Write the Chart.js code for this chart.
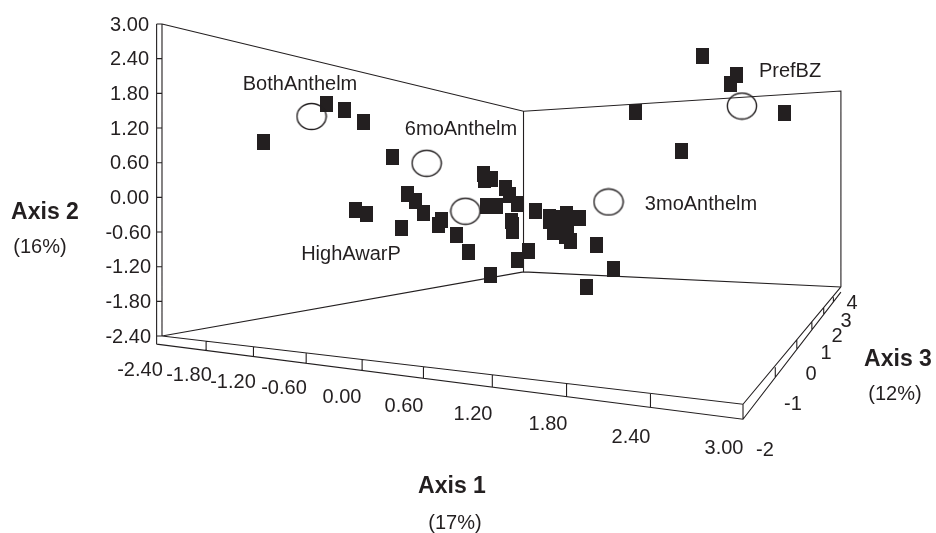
<!DOCTYPE html>
<html lang="en">
<head>
  <meta charset="UTF-8">
  <title>Ordination 3D scatter</title>
  <script src="https://cdn.jsdelivr.net/npm/chart.js"></script>
  <style>
    html, body { margin: 0; padding: 0; background: #fff; }
    #wrap { width: 936px; height: 533px; }
  </style>
</head>
<body>
  <div id="wrap"><canvas id="ordination" width="936" height="533"></canvas></div>

  <script>
    // Sample scores
    const scoresAxis1 = [-1.46, -0.87, -0.70, -0.53, -0.26, -0.12, -0.04, 0.03, 0.20, 0.17,
      -0.60, -0.50, -0.17, 0.34, 0.45, 0.65, 0.90, 1.01, 1.55, 1.80,
      1.64, 0.59, 0.66, 0.60, 0.79, 0.83, 0.90, 0.62, 0.71, 0.85,
      0.86, 0.86, 1.07, 1.20, 1.36, 1.48, 1.20, 1.24, 1.35, 1.40,
      1.37, 1.27, 1.32, 1.28, 2.62, 2.94, 2.88, 2.00, 3.39, 2.43];
    const scoresAxis2 = [0.96, 1.61, 1.51, 1.30, 0.69, 0.06, -0.06, -0.27, -0.39, -0.48,
      -0.22, -0.29, -0.53, -0.65, -0.95, -1.34, -1.09, -0.93, -1.55, -1.24,
      -0.83, 0.40, 0.32, 0.30, 0.16, 0.04, -0.12, -0.15, -0.15, -0.41,
      -0.48, -0.58, -0.24, -0.34, -0.29, -0.36, -0.41, -0.60, -0.67, -0.76,
      -0.51, -0.43, -0.36, -0.53, 2.44, 2.12, 1.96, 1.48, 1.46, 0.80];

    // Group centroids (open circles)
    const groupNames = ["BothAnthelm", "6moAnthelm", "HighAwarP", "3moAnthelm", "PrefBZ"];
    const groupAxis1 = [-1.01, 0.06, 0.42, 1.75, 2.99];
    const groupAxis2 = [1.40, 0.59, -0.24, -0.08, 1.58];

    // Tick labels
    const axis1Labels = ["-2.40", "-1.80", "-1.20", "-0.60", "0.00", "0.60", "1.20", "1.80", "2.40", "3.00"];
    const axis2Ticks = [-2.4, -1.8, -1.2, -0.6, 0, 0.6, 1.2, 1.8, 2.4, 3];
    const axis3Labels = ["-2", "-1", "0", "1", "2", "3", "4"];

    // Box outline, null = pen up
    const frameX = [-2.40, 0.96, 3.91, 3.91, null, 0.96, 0.96, null,
      -2.40, 0.96, 3.91, null, -2.40, 3.00, 3.91, null, -2.45, 3.00, 3.91, null,
      -2.40, -2.40, null, -2.45, -2.45, null, 3.00, 3.00, null,
      -1.99, -1.99, null, -1.55, -1.55, null, -1.06, -1.06, null, -0.54, -0.54, null,
      0.03, 0.03, null, 0.67, 0.67, null, 1.36, 1.36, null, 2.14, 2.14, null,
      3.30, 3.30, null, 3.50, 3.50, null, 3.64, 3.64, null, 3.75, 3.75, null, 3.84, 3.84];
    const frameY = [3.00, 1.49, 1.84, -1.55, null, 1.49, -1.29, null,
      -2.40, -1.29, -1.55, null, -2.40, -3.58, -1.55, null, -2.54, -3.84, -1.64, null,
      3.00, -2.40, null, 3.00, -2.54, null, -3.58, -3.84, null,
      -2.49, -2.65, null, -2.59, -2.75, null, -2.69, -2.87, null, -2.81, -2.99, null,
      -2.93, -3.13, null, -3.07, -3.28, null, -3.22, -3.45, null, -3.39, -3.63, null,
      -2.94, -3.11, null, -2.47, -2.62, null, -2.16, -2.30, null, -1.90, -2.02, null, -1.73, -1.81];

    const ink = "#231f20";

    function zip(xs, ys) {
      return xs.map((x, i) => ({ x: x, y: ys[i] }));
    }

    // axis 2 ticks sit between the two upright lines
    function axis2TickMarks() {
      const pts = [];
      axis2Ticks.forEach(v => {
        pts.push({ x: -2.45, y: v }, { x: -2.40, y: v }, { x: null, y: null });
      });
      return pts;
    }

    // pointStyle images: the marks are not square / not round in the figure
    function squareMark() {
      const c = document.createElement("canvas");
      c.width = 13; c.height = 16;
      const g = c.getContext("2d");
      g.fillStyle = ink;
      g.fillRect(0, 0, 13, 16);
      return c;
    }
    function ovalMark() {
      const c = document.createElement("canvas");
      c.width = 32; c.height = 29;
      const g = c.getContext("2d");
      g.strokeStyle = ink;
      g.lineWidth = 1.4;
      g.beginPath();
      g.ellipse(16, 14.5, 14.6, 13, 0, 0, Math.PI * 2);
      g.stroke();
      return c;
    }

    // screen placement of the free text
    const arial = '"Liberation Sans", Arial, sans-serif';
    const textItems = [];
    [[140, 370], [189, 375], [233, 382], [284, 388], [342, 397], [404, 406], [473, 414], [548, 424], [631, 437], [724, 448]]
      .forEach((p, i) => textItems.push({ t: axis1Labels[i], x: p[0], y: p[1] }));
    [[765, 450], [793, 404], [811, 374], [826, 353], [837, 336], [846, 321], [852, 303]]
      .forEach((p, i) => textItems.push({ t: axis3Labels[i], x: p[0], y: p[1] }));
    [[300, 84], [461, 129], [351, 254], [701, 204], [790, 71]]
      .forEach((p, i) => textItems.push({ t: groupNames[i], x: p[0], y: p[1] }));
    textItems.push({ t: "Axis 2", x: 45, y: 213, bold: true });
    textItems.push({ t: "(16%)", x: 40, y: 247 });
    textItems.push({ t: "Axis 1", x: 452, y: 487, bold: true });
    textItems.push({ t: "(17%)", x: 455, y: 523 });
    textItems.push({ t: "Axis 3", x: 898, y: 360, bold: true });
    textItems.push({ t: "(12%)", x: 895, y: 394 });

    const freeText = {
      id: "freeText",
      afterDraw(chart) {
        const ctx = chart.ctx;
        const yScale = chart.scales.y;
        ctx.save();
        ctx.fillStyle = ink;
        ctx.textAlign = "center";
        ctx.textBaseline = "middle";
        textItems.forEach(item => {
          ctx.font = (item.bold ? "bold 23px " : "20px ") + arial;
          ctx.fillText(item.t, item.x, item.y);
        });
        // axis 2 labels follow the y scale
        ctx.font = "20px " + arial;
        ctx.textAlign = "right";
        axis2Ticks.forEach(v => {
          ctx.fillText(v.toFixed(2), v < 0 ? 151 : 149, yScale.getPixelForValue(v) + 1);
        });
        ctx.restore();
      }
    };

    new Chart(document.getElementById("ordination"), {
      type: "scatter",
      data: {
        datasets: [
          {
            label: "Box",
            data: zip(frameX, frameY).concat([{ x: null, y: null }], axis2TickMarks()),
            showLine: true,
            spanGaps: false,
            borderColor: ink,
            borderWidth: 1.1,
            pointRadius: 0,
            order: 3
          },
          {
            label: "Samples",
            data: zip(scoresAxis1, scoresAxis2),
            pointStyle: squareMark(),
            pointRadius: 7,
            order: 2
          },
          {
            label: "Groups",
            data: zip(groupAxis1, groupAxis2),
            pointStyle: ovalMark(),
            pointRadius: 14,
            order: 1
          }
        ]
      },
      options: {
        responsive: false,
        animation: false,
        // marks near the edge must not push the chart area in
        layout: { padding: 0, autoPadding: false },
        plugins: { legend: { display: false }, tooltip: { enabled: false } },
        scales: {
          x: { type: "linear", display: false, min: -3.9056, max: 4.7937 },
          y: { type: "linear", display: false, min: -5.8083, max: 3.4152 }
        }
      },
      plugins: [freeText]
    });
  </script>
</body>
</html>
